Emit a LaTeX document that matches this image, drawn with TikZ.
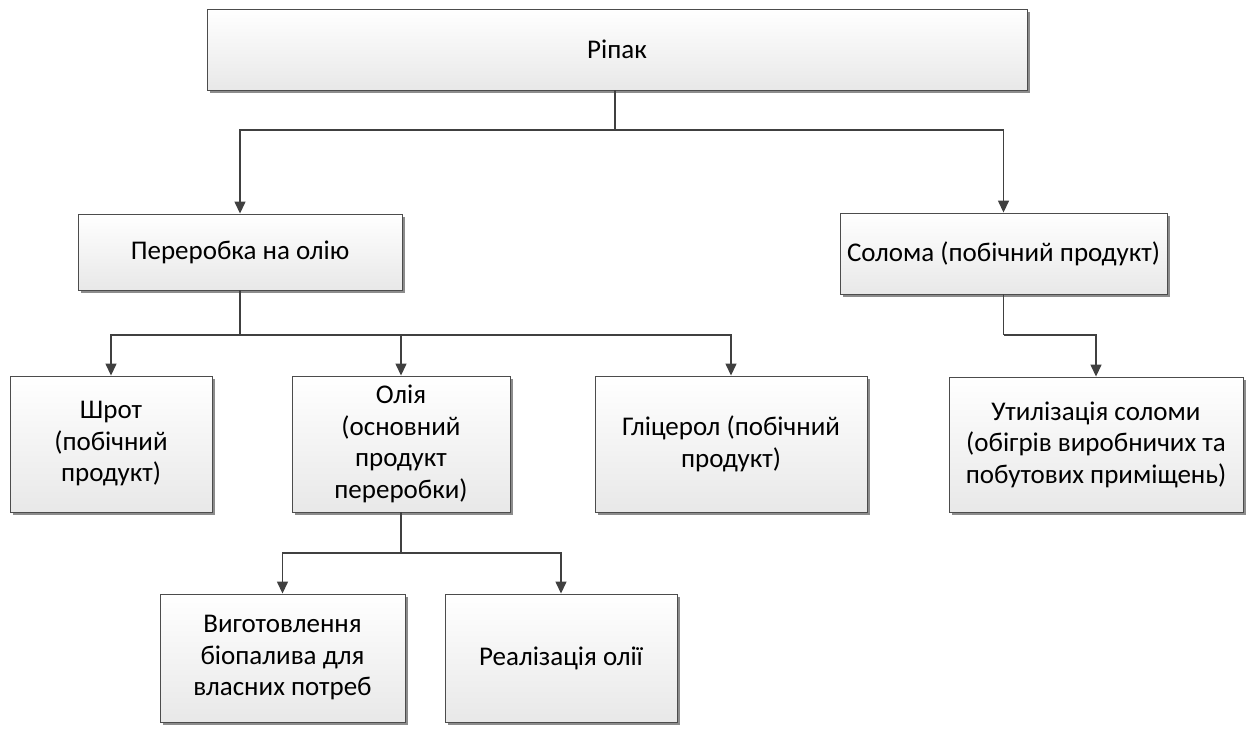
\documentclass[tikz,border=0pt]{standalone}
\usepackage{fontspec}
\setmainfont{Carlito}
\usetikzlibrary{shadows,arrows.meta}
\begin{document}
\begin{tikzpicture}[x=1pt,y=1pt,
  box/.style={draw=black!70, line width=0.9pt, top color=white, bottom color=black!9,
    drop shadow={shadow xshift=3pt, shadow yshift=-3pt, fill=black!45, opacity=1},
    align=center, inner sep=4pt, font=\fontsize{27}{31.5}\selectfont, text=black},
  conn/.style={draw=black!75, line width=1.4pt},
  arr/.style={conn, -{Triangle[length=12pt,width=11pt]}}]
\useasboundingbox (0,0) rectangle (1248,-731);
\node[box, minimum width=820pt, minimum height=81pt] (rip) at (617,-49.5) {Ріпак};
\node[box, minimum width=324pt, minimum height=76pt] (per) at (240,-252) {Переробка на олію};
\node[box, minimum width=327pt, minimum height=81pt] (sol) at (1003.5,-253.5) {Солома (побічний продукт)};
\node[box, minimum width=202pt, minimum height=136pt] (shr) at (111,-444) {Шрот\\(побічний\\продукт)};
\node[box, minimum width=218pt, minimum height=136pt] (oli) at (401,-444) {Олія\\(основний\\продукт\\переробки)};
\node[box, minimum width=272pt, minimum height=136pt] (gli) at (731,-444) {Гліцерол (побічний\\продукт)};
\node[box, minimum width=294pt, minimum height=135pt] (uti) at (1096,-444.5) {Утилізація соломи\\(обігрів виробничих та\\побутових приміщень)};
\node[box, minimum width=245pt, minimum height=128pt] (vyg) at (282.5,-658) {Виготовлення\\біопалива для\\власних потреб};
\node[box, minimum width=232pt, minimum height=128pt] (rea) at (561,-658) {Реалізація олії};
% connectors
\coordinate (j1) at (615,-130);
\coordinate (j2) at (240,-335);
\coordinate (j3) at (1003.5,-335);
\coordinate (j4) at (401,-553);
\draw[conn] (rip.south -| j1) -- (j1);
\draw[arr] (j1) -| (per.north);
\draw[arr] (j1) -| (sol.north);
\draw[conn] (per.south) -- (j2);
\draw[arr] (j2) -| (shr.north);
\draw[arr] (j2) -| (oli.north);
\draw[arr] (j2) -| (gli.north);
\draw[conn] (sol.south) -- (j3);
\draw[arr] (j3) -| (uti.north);
\draw[conn] (oli.south) -- (j4);
\draw[arr] (j4) -| (vyg.north);
\draw[arr] (j4) -| (rea.north);
\end{tikzpicture}
\end{document}
